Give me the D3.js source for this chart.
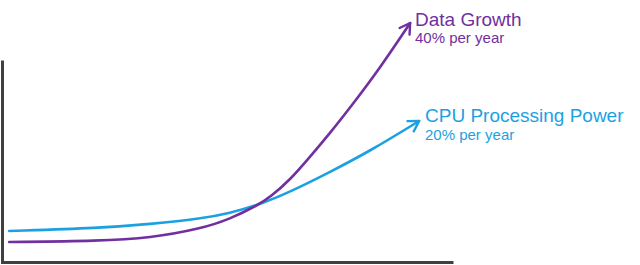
<!DOCTYPE html>
<html>
<head>
<meta charset="utf-8">
<script src="https://cdn.jsdelivr.net/npm/d3@7"></script>
<style>
  html, body { margin: 0; padding: 0; background: #fff; }
  svg { display: block; font-family: "Liberation Sans", Arial, sans-serif; }
</style>
</head>
<body>
<script>
// time runs 0..100 along the x axis, values 0..120 on y (arbitrary units)
var dataT   = [1.6, 21.8, 32.9, 44, 50.7, 56.9, 59.6, 64, 68.4, 72.9, 77.3, 84, 90.7];
var dataVal = [10, 10.5, 12, 16.5, 21.5, 28.5, 32.5, 41, 52.5, 64.5, 77, 97, 119.5];

var cpuT   = [1.6, 21.8, 32.9, 44, 50.7, 56.9, 64, 72.9, 81.8, 92.7];
var cpuVal = [15.5, 17, 19, 21.5, 24.5, 28.5, 35, 45, 55.5, 70.5];

var seriesNames = ["Data Growth", "CPU Processing Power"];
var seriesRates = ["40% per year", "20% per year"];
var seriesColors = ["#7030a0", "#1ba1e2"];

var width = 640, height = 265;

var x = d3.scaleLinear().domain([0, 100]).range([2, 452]);
var y = d3.scaleLinear().domain([0, 120]).range([262, 22]);

var svg = d3.select("body").append("svg")
    .attr("width", width)
    .attr("height", height);

var defs = svg.append("defs");
seriesColors.forEach(function(c, i) {
  defs.append("marker")
      .attr("id", "arrow" + i)
      .attr("markerUnits", "userSpaceOnUse")
      .attr("viewBox", "-13 -8 15 16")
      .attr("markerWidth", 15)
      .attr("markerHeight", 16)
      .attr("refX", 0)
      .attr("refY", 0)
      .attr("orient", "auto")
    .append("path")
      .attr("d", "M-10,-6L0,0L-10,6")
      .attr("fill", "none")
      .attr("stroke", c)
      .attr("stroke-width", 2.4)
      .attr("stroke-linecap", "round")
      .attr("stroke-linejoin", "round");
});

// axes: just the two lines, no ticks
svg.append("g")
    .attr("transform", "translate(0," + y(0) + ")")
    .call(d3.axisBottom(x.copy().range([1, 453])).tickValues([]).tickSizeOuter(0))
    .select(".domain")
      .attr("stroke", "#404040")
      .attr("stroke-width", 3);

svg.append("g")
    .attr("transform", "translate(" + x(0) + ",0)")
    .call(d3.axisLeft(d3.scaleLinear().domain([0, 101]).range([y(0) + 1.5, y(101)])).tickValues([]).tickSizeOuter(0))
    .select(".domain")
      .attr("stroke", "#404040")
      .attr("stroke-width", 3);

var series = [
  { t: cpuT, v: cpuVal, i: 1 },
  { t: dataT, v: dataVal, i: 0 }
];

// basis spline smooths out the small reading errors in the points
var line = d3.line()
    .x(function(d) { return x(d[0]); })
    .y(function(d) { return y(d[1]); })
    .curve(d3.curveBasis);

series.forEach(function(s) {
  var pts = s.t.map(function(t, k) { return [t, s.v[k]]; });
  svg.append("path")
      .datum(pts)
      .attr("d", line)
      .attr("fill", "none")
      .attr("stroke", seriesColors[s.i])
      .attr("stroke-width", 2.6)
      .attr("stroke-linecap", "round")
      .attr("marker-end", "url(#arrow" + s.i + ")");
});

// labels next to the arrow heads
var labelPos = [
  { x: 415, y: 26, sub: 43 },
  { x: 425, y: 122, sub: 140 }
];

labelPos.forEach(function(p, i) {
  svg.append("text")
      .attr("x", p.x)
      .attr("y", p.y)
      .attr("fill", seriesColors[i])
      .style("font-size", "19px")
      .text(seriesNames[i]);
  svg.append("text")
      .attr("x", p.x)
      .attr("y", p.sub)
      .attr("fill", seriesColors[i])
      .style("font-size", "15px")
      .text(seriesRates[i]);
});
</script>
</body>
</html>
